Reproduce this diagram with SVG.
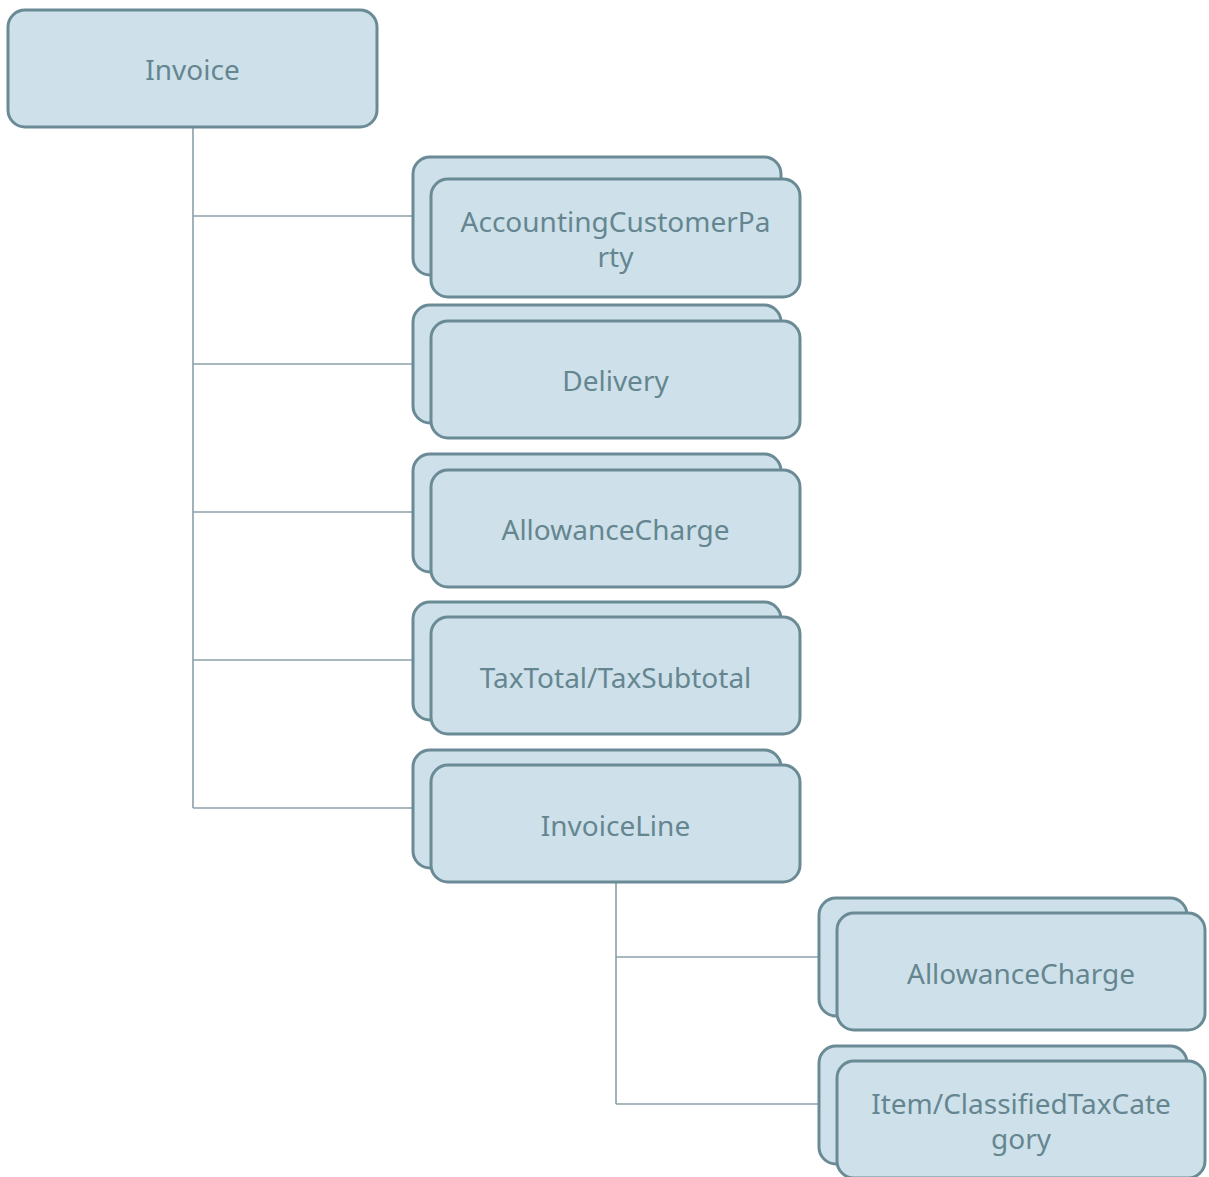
<svg xmlns="http://www.w3.org/2000/svg" width="1209" height="1177" viewBox="0 0 1209 1177">
<style>
.box{fill:#cee1ea;stroke:#6a8b95;stroke-width:3}
.lbl{font-family:"Noto Sans","Open Sans",sans-serif;font-size:28px;fill:#658690;text-anchor:middle}
.con{fill:none;stroke:#8aa1a9;stroke-width:1.6}
</style>
<rect width="1209" height="1177" fill="#ffffff"/>
<g id="connectors">
<path class="con" d="M193 127V808M193 216H413M193 364H413M193 512H413M193 660H413M193 808H413"/>
<path class="con" d="M616 883V1104M616 957H819M616 1104H819"/>
</g>
<g id="invoice">
<rect class="box" x="8" y="10" width="369" height="117" rx="17"/>
<text class="lbl" x="192.5" y="80">Invoice</text>
</g>
<g id="accountingcustomerparty">
<rect class="box" x="413" y="157" width="368" height="118" rx="17"/>
<rect class="box" x="431" y="179" width="369" height="118" rx="17"/>
<text class="lbl" x="615.5" y="232">AccountingCustomerPa</text>
<text class="lbl" x="615.5" y="267">rty</text>
</g>
<g id="delivery">
<rect class="box" x="413" y="305" width="368" height="118" rx="17"/>
<rect class="box" x="431" y="321" width="369" height="117" rx="17"/>
<text class="lbl" x="615.5" y="391">Delivery</text>
</g>
<g id="allowancecharge1">
<rect class="box" x="413" y="454" width="368" height="118" rx="17"/>
<rect class="box" x="431" y="470" width="369" height="117" rx="17"/>
<text class="lbl" x="615.5" y="540">AllowanceCharge</text>
</g>
<g id="taxtotal">
<rect class="box" x="413" y="602" width="368" height="118" rx="17"/>
<rect class="box" x="431" y="617" width="369" height="117" rx="17"/>
<text class="lbl" x="615.5" y="688">TaxTotal/TaxSubtotal</text>
</g>
<g id="invoiceline">
<rect class="box" x="413" y="750" width="368" height="118" rx="17"/>
<rect class="box" x="431" y="765" width="369" height="117" rx="17"/>
<text class="lbl" x="615.5" y="836">InvoiceLine</text>
</g>
<g id="allowancecharge2">
<rect class="box" x="819" y="898" width="368" height="118" rx="17"/>
<rect class="box" x="837" y="913" width="368" height="117" rx="17"/>
<text class="lbl" x="1021" y="984">AllowanceCharge</text>
</g>
<g id="classifiedtaxcategory">
<rect class="box" x="819" y="1046" width="368" height="118" rx="17"/>
<rect class="box" x="837" y="1061" width="368" height="117" rx="17"/>
<text class="lbl" x="1021" y="1114">Item/ClassifiedTaxCate</text>
<text class="lbl" x="1021" y="1149">gory</text>
</g>
</svg>
